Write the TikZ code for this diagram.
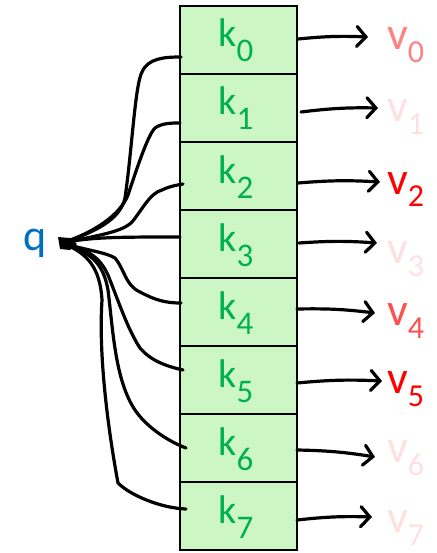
\documentclass[tikz,border=0pt]{standalone}
\usepackage{fontspec}
\setmainfont{Carlito}
\usetikzlibrary{arrows.meta}
\definecolor{boxfill}{RGB}{204,247,196}
\definecolor{kgreen}{RGB}{0,176,80}
\definecolor{qblue}{RGB}{0,112,192}
\definecolor{vred}{RGB}{255,0,0}
\definecolor{vmid}{RGB}{255,80,80}
\definecolor{vpink}{RGB}{255,130,130}
\definecolor{vfaint}{RGB}{255,224,224}
\newcommand\ksub[1]{\raisebox{-15pt}{\fontsize{33}{33}\selectfont #1}}
\newcommand\vsub[1]{\raisebox{-13pt}{\fontsize{32}{32}\selectfont #1}}
\begin{document}
\begin{tikzpicture}[x=1pt,y=-1pt,
  rowbox/.style={draw=black, line width=1.8pt, fill=boxfill, minimum width=117pt, minimum height=68pt, inner sep=0pt, outer sep=0pt},
  klab/.style={text=kgreen, font=\fontsize{40}{40}\selectfont, anchor=base, inner sep=0pt},
  vlab/.style={font=\fontsize{46}{46}\selectfont, anchor=base west, inner sep=0pt},
  wire/.style={line width=3.2pt, line cap=round, line join=round},
  arr/.style={line width=3.2pt, line cap=round, -{Straight Barb[length=9pt,width=20pt,line cap=round]}}]
\useasboundingbox (0,0) rectangle (436,553);
% box rows
\foreach \i in {0,...,7}{
  \node[rowbox] (r\i) at (238.5,{40+68*\i}) {};
}
\draw[line width=2.4pt] (r0.north west) rectangle (r7.south east);
% k labels
\foreach \i in {0,...,7}{
  \node[klab] (k\i) at (236,{47+68*\i}) {k\ksub{\i}};
}
% q
\node[text=qblue, font=\fontsize{44}{44}\selectfont, anchor=base, inner sep=0pt] (q) at (35,250) {q};
\coordinate (h) at (62,243);
\coordinate (e0) at (181,57);
\coordinate (e1) at (180,123);
\coordinate (e2) at (183,184);
\coordinate (e3) at (180,237);
\coordinate (e4) at (181,303);
\coordinate (e5) at (183,370);
\coordinate (e6) at (186,448);
\coordinate (e7) at (186,509);
\fill (58,237) -- (70,238) -- (77,244) -- (70,250) -- (60,249) -- cycle;
\draw[wire] (h) .. controls (95,232) and (120,220) .. (125,198) .. controls (132,150) and (135,85) .. (142,72) .. controls (148,58) and (165,57) .. (e0);
\draw[wire] (h) .. controls (95,232) and (120,215) .. (128,195) .. controls (138,165) and (148,135) .. (155,128) .. controls (162,123) and (172,123) .. (e1);
\draw[wire] (h) .. controls (100,235) and (122,232) .. (132,222) .. controls (142,210) and (150,193) .. (162,190) .. controls (170,186) and (178,185) .. (e2);
\draw[wire] (h) .. controls (90,237) and (120,237) .. (e3);
\draw[wire] (h) .. controls (85,250) and (105,252) .. (115,258) .. controls (125,270) and (125,285) .. (140,292) .. controls (155,300) and (165,303) .. (e4);
\draw[wire] (h) .. controls (90,250) and (100,258) .. (108,275) .. controls (118,300) and (128,330) .. (140,348) .. controls (150,360) and (165,366) .. (e5);
\draw[wire] (h) .. controls (90,252) and (103,262) .. (108,290) .. controls (113,330) and (115,380) .. (135,410) .. controls (145,425) and (165,440) .. (e6);
\draw[wire] (h) .. controls (88,253) and (100,268) .. (102,300) .. controls (98,360) and (110,440) .. (118,483) .. controls (130,495) and (160,508) .. (e7);
% v labels
\node[vlab, text=vpink] (v0) at (387,50) {v\vsub{0}};
\node[vlab, text=vfaint] (v1) at (387,122) {v\vsub{1}};
\node[vlab, text=vred] (v2) at (387,194) {v\vsub{2}};
\node[vlab, text=vfaint] (v3) at (387,263) {v\vsub{3}};
\node[vlab, text=vmid] (v4) at (387,325) {v\vsub{4}};
\node[vlab, text=vred] (v5) at (387,393) {v\vsub{5}};
\node[vlab, text=vfaint] (v6) at (387,462) {v\vsub{6}};
\node[vlab, text=vfaint] (v7) at (387,532) {v\vsub{7}};
% arrows
\coordinate (s0) at (298,39);  \coordinate (t0) at (368,37);
\coordinate (s1) at (301,112); \coordinate (t1) at (378,108);
\coordinate (s2) at (298,183); \coordinate (t2) at (380,182);
\coordinate (s3) at (299,243); \coordinate (t3) at (377,243);
\coordinate (s4) at (297,309); \coordinate (t4) at (375,313);
\coordinate (s5) at (297,383); \coordinate (t5) at (382,381);
\coordinate (s6) at (297,450); \coordinate (t6) at (375,457);
\coordinate (s7) at (297,520); \coordinate (t7) at (372,517);
\foreach \i in {0,...,7}{
  \draw[arr] (s\i) to[bend left=4] (t\i);
}
\end{tikzpicture}
\end{document}
